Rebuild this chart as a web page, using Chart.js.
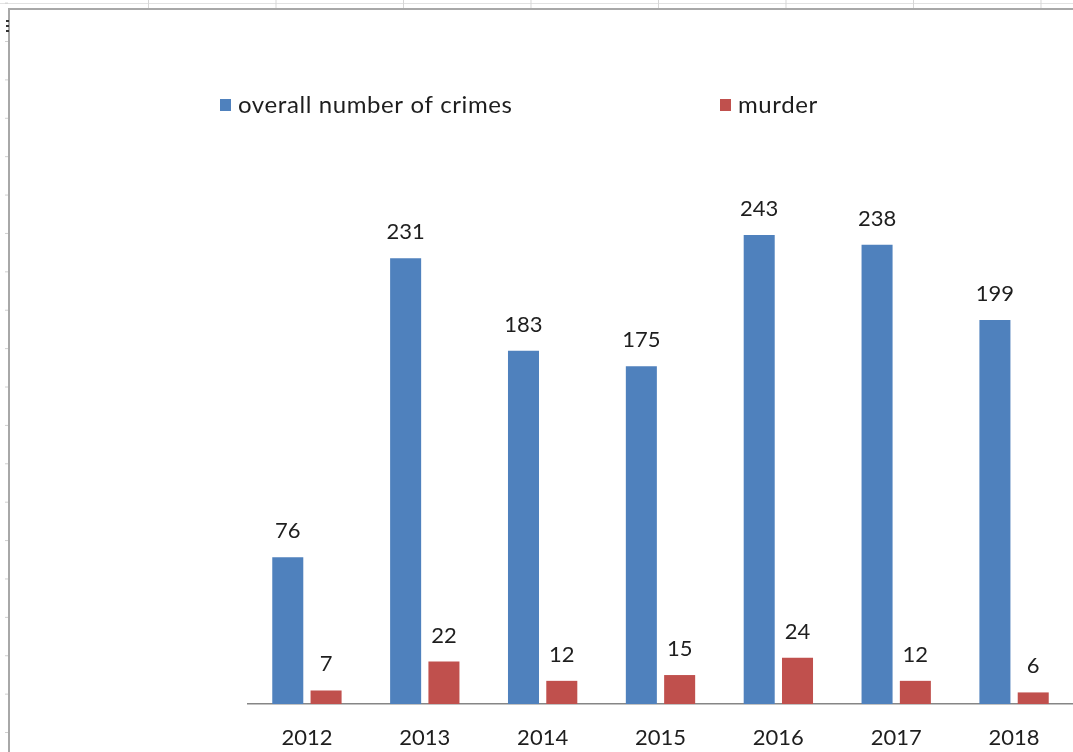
<!DOCTYPE html>
<html>
<head>
<meta charset="utf-8">
<script src="https://cdn.jsdelivr.net/npm/chart.js@4.4.0/dist/chart.umd.min.js"></script>
<style>
    html, body { margin: 0; padding: 0; background: #fff; }
    #wrap { position: relative; width: 1073px; height: 752px; overflow: hidden; background: #fff; }
    /* spreadsheet bits around the embedded chart */
    #colLines { position: absolute; left: 140px; top: 0; width: 940px; height: 8px;
        background: linear-gradient(to right, #d6d6d6 0 1px, transparent 1px) 8px 0 / 127.5px 8px repeat-x; }
    #topLine { position: absolute; left: 0; top: 3px; width: 1073px; height: 1px; background: #e2e2e2; }
    #rowTicks { position: absolute; left: 5px; top: 0; width: 3px; height: 752px;
        background: linear-gradient(to bottom, #cfcfcf 0 1px, transparent 1px) 0 41px / 3px 38.4px repeat-y; }
    #handle { position: absolute; left: 6px; top: 20px; width: 3px; height: 13px;
        background: linear-gradient(to bottom, #333 0 2px, transparent 2px) 0 0 / 3px 5px repeat-y; }
    #frame { position: absolute; left: 8px; top: 8px; width: 1100px; height: 800px;
        border-left: 2px solid #a8a8a8; border-top: 2px solid #a8a8a8; }
    canvas { position: absolute; left: 0; top: 0; }
</style>
</head>
<body>
<div id="wrap">
    <div id="topLine"></div>
    <div id="colLines"></div>
    <div id="rowTicks"></div>
    <div id="frame"></div>
    <div id="handle"></div>
    <canvas id="crimeChart" width="1073" height="752"></canvas>
</div>
<script>
// du lieu bieu do
const years = ['2012', '2013', '2014', '2015', '2016', '2017', '2018'];
const crimes = [76, 231, 183, 175, 243, 238, 199];
const murders = [7, 22, 12, 15, 24, 12, 6];
const seriesNames = ['overall number of crimes', 'murder'];

const blue = '#4F81BD';
const red = '#C0504D';
const textColor = '#1e1e1e';
const fontFamily = 'Lato, "Open Sans", sans-serif';

// nhan gia tri tren dau moi cot
const valueLabels = {
    id: 'valueLabels',
    afterDatasetsDraw(chart) {
        const ctx = chart.ctx;
        ctx.save();
        ctx.font = '22px ' + fontFamily;
        ctx.fillStyle = textColor;
        ctx.textAlign = 'center';
        ctx.textBaseline = 'alphabetic';
        chart.data.datasets.forEach((ds, i) => {
            chart.getDatasetMeta(i).data.forEach((bar, j) => {
                ctx.fillText(String(ds.data[j]), bar.x, bar.y - 19);
            });
        });
        ctx.restore();
    }
};

// chu thich dat lech trai nhu Excel
const legendSpots = [220, 720];
const sideLegend = {
    id: 'sideLegend',
    afterDraw(chart) {
        const ctx = chart.ctx;
        ctx.save();
        ctx.font = '24px ' + fontFamily;
        ctx.letterSpacing = '0.6px';
        ctx.textBaseline = 'middle';
        ctx.textAlign = 'left';
        chart.data.datasets.forEach((ds, i) => {
            const x = legendSpots[i];
            ctx.fillStyle = ds.backgroundColor;
            ctx.fillRect(x, 99, 11, 12);
            ctx.fillStyle = textColor;
            ctx.fillText(ds.label, x + 18, 105);
        });
        ctx.restore();
    }
};

const ctx = document.getElementById('crimeChart').getContext('2d');
new Chart(ctx, {
    type: 'bar',
    data: {
        labels: years,
        datasets: [
            {
                label: seriesNames[0],
                data: crimes,
                backgroundColor: blue,
                borderWidth: 0,
            },
            {
                label: seriesNames[1],
                data: murders,
                backgroundColor: red,
                borderWidth: 0,
            },
        ],
    },
    options: {
        responsive: false,
        animation: false,
        events: [],
        layout: {
            padding: { left: 248, right: 0, top: 125, bottom: 0 },
        },
        datasets: {
            bar: {
                categoryPercentage: 0.65,
                barPercentage: 0.81,
            },
        },
        scales: {
            x: {
                grid: { display: false, drawTicks: false },
                border: { display: true, color: '#868686', width: 1.5 },
                ticks: {
                    color: textColor,
                    font: { family: fontFamily, size: 22 },
                    padding: 21,
                    maxRotation: 0,
                },
                afterFit(scale) { scale.height = 48; },
            },
            y: {
                display: false,
                min: 0,
                max: 300,
            },
        },
        plugins: {
            legend: { display: false },
            tooltip: { enabled: false },
        },
    },
    plugins: [valueLabels, sideLegend],
});
</script>
</body>
</html>
